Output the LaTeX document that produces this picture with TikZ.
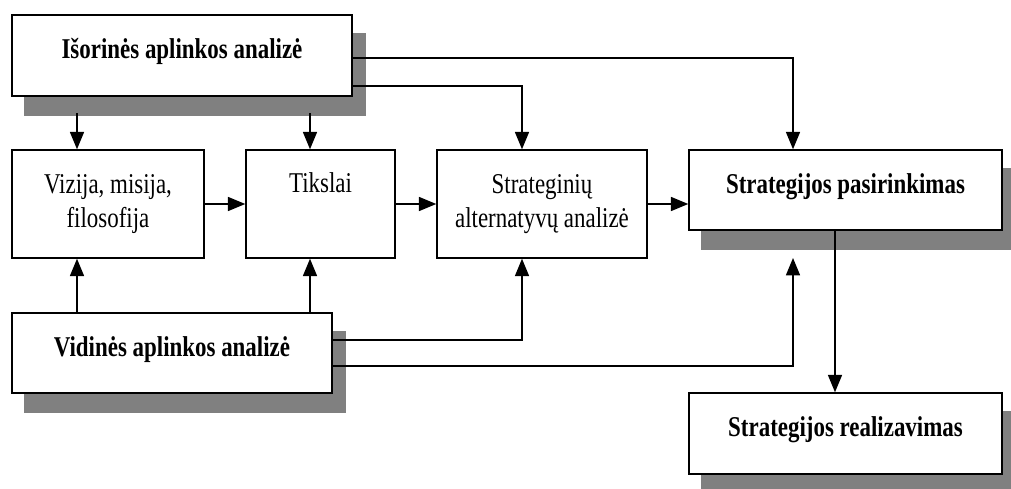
\documentclass[tikz,border=0pt]{standalone}
\usepackage{fontspec}
\setmainfont{Liberation Serif}[FakeStretch=0.8]
\usetikzlibrary{arrows.meta,backgrounds}
\definecolor{shadowgray}{RGB}{128,128,128}
\tikzset{
  blok/.style={draw, fill=white, line width=1.1pt, inner sep=0pt, align=center,
    font=\fontsize{21.5}{25}\selectfont},
  blokb/.style={blok, font=\fontsize{21.5}{25}\selectfont\bfseries,
    text height=16pt, text depth=11pt},
  rod/.style={line width=1.1pt, -{Triangle[length=13pt,width=10.5pt]}},
}
\begin{document}
\begin{tikzpicture}[x=0.75pt,y=-0.75pt]
\useasboundingbox (0,0) rectangle (1011,489);

% columns and rows of the connectors
\coordinate (xa) at (77,0);
\coordinate (xb) at (310,0);
\coordinate (xc) at (522,0);
\coordinate (xd) at (793,0);
\coordinate (xe) at (835,0);
\coordinate (ya) at (0,58);
\coordinate (yb) at (0,86);
\coordinate (ye) at (0,113);
\coordinate (yc) at (0,340);
\coordinate (yd) at (0,366);
\coordinate (yg) at (0,258);

% blocks
\node[blokb, minimum width=255pt, minimum height=60.75pt] (isor) at (182,55.5) {Išorinės aplinkos analizė};
\node[blok, minimum width=144pt, minimum height=81pt] (vizija) at (108,204) {Vizija, misija,\\filosofija};
\node[blok, minimum width=111.75pt, minimum height=81pt] (tikslai) at (320.5,204) {Tikslai\\\strut};
\node[blok, minimum width=157.5pt, minimum height=81pt] (alt) at (542,204) {Strateginių\\alternatyvų analizė};
\node[blokb, minimum width=234.75pt, minimum height=60pt] (pasir) at (845.5,190) {Strategijos pasirinkimas};
\node[blokb, minimum width=240pt, minimum height=60pt] (vidin) at (172,353) {Vidinės aplinkos analizė};
\node[blokb, minimum width=234.75pt, minimum height=60.75pt] (real) at (845.5,433.5) {Strategijos realizavimas};

% shadows
\begin{scope}[on background layer]
\fill[shadowgray] ([shift={(13,19)}]isor.north west) rectangle ([shift={(13,19)}]isor.south east);
\fill[shadowgray] ([shift={(13,19)}]pasir.north west) rectangle ([shift={(13,19)}]pasir.south east);
\fill[shadowgray] ([shift={(13,19)}]vidin.north west) rectangle ([shift={(13,19)}]vidin.south east);
\fill[shadowgray] ([shift={(13,19)}]real.north west) rectangle ([shift={(13,19)}]real.south east);
\end{scope}

% connectors
\draw[rod] (xa |- ye) -- (vizija.north -| xa);
\draw[rod] (xb |- ye) -- (tikslai.north -| xb);
\draw[rod] (isor.east |- yb) -| (alt.north -| xc);
\draw[rod] (isor.east |- ya) -| (pasir.north -| xd);
\draw[rod] (vizija.east) -- (tikslai.west);
\draw[rod] (tikslai.east) -- (alt.west);
\draw[rod] (alt.east) -- (alt.east -| pasir.west);
\draw[rod] (vidin.north -| xa) -- (vizija.south -| xa);
\draw[rod] (vidin.north -| xb) -- (tikslai.south -| xb);
\draw[rod] (vidin.east |- yc) -| (alt.south -| xc);
\draw[rod] (vidin.east |- yd) -| (xd |- yg);
\draw[rod] (pasir.south -| xe) -- (real.north -| xe);

\end{tikzpicture}
\end{document}
